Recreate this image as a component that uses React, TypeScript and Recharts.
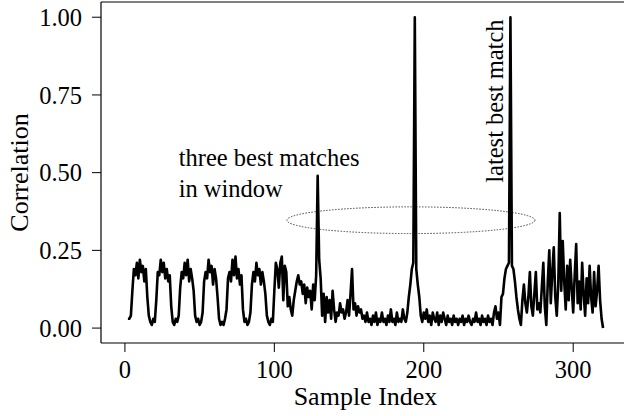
import { LineChart, Line, XAxis, YAxis, ReferenceLine, ReferenceArea, ReferenceDot, Label } from "recharts";

const FONT = "'Liberation Serif', 'Times New Roman', Times, serif";

// first sample index of the correlation trace
const startIndex = 2;

// correlation per sample (index 2 .. 319)
const correlation = [
  0.03, 0.03, 0.04, 0.12, 0.19, 0.17, 0.21, 0.16, 0.22, 0.18, 0.2, 0.15, 0.19, 0.1,
  0.04, 0.02, 0.01, 0.03, 0.02, 0.09, 0.18, 0.17, 0.22, 0.18, 0.21, 0.16, 0.19, 0.15,
  0.17, 0.07, 0.02, 0.01, 0.03, 0.02, 0.04, 0.13, 0.18, 0.16, 0.21, 0.17, 0.22, 0.15,
  0.19, 0.16, 0.12, 0.04, 0.02, 0.03, 0.01, 0.02, 0.05, 0.15, 0.18, 0.16, 0.22, 0.18,
  0.2, 0.14, 0.19, 0.16, 0.1, 0.03, 0.01, 0.02, 0.01, 0.03, 0.06, 0.16, 0.18, 0.15,
  0.22, 0.17, 0.23, 0.16, 0.19, 0.14, 0.17, 0.06, 0.02, 0.03, 0.01, 0.02, 0.05, 0.14,
  0.18, 0.15, 0.21, 0.17, 0.19, 0.14, 0.18, 0.15, 0.11, 0.04, 0.02, 0.01, 0.03, 0.02,
  0.12, 0.21, 0.19, 0.13, 0.21, 0.23, 0.09, 0.2, 0.18, 0.07, 0.1, 0.06, 0.04, 0.09,
  0.12, 0.15, 0.17, 0.14, 0.15, 0.11, 0.14, 0.08, 0.13, 0.1, 0.12, 0.06, 0.14, 0.09,
  0.17, 0.49, 0.22, 0.16, 0.04, 0.11, 0.02, 0.1, 0.05, 0.09, 0.03, 0.12, 0.06, 0.02,
  0.05, 0.04, 0.08, 0.05, 0.06, 0.03, 0.05, 0.09, 0.04, 0.11, 0.19, 0.06, 0.08, 0.04,
  0.07, 0.05, 0.06, 0.03, 0.04, 0.02, 0.05, 0.02, 0.03, 0.01, 0.04, 0.02, 0.05, 0.01,
  0.03, 0.02, 0.05, 0.02, 0.03, 0.01, 0.04, 0.02, 0.06, 0.02, 0.03, 0.01, 0.05, 0.02,
  0.03, 0.02, 0.06, 0.03, 0.02, 0.05, 0.1, 0.14, 0.19, 0.21, 1.0, 0.19, 0.14, 0.1,
  0.04, 0.02, 0.05, 0.03, 0.06, 0.02, 0.04, 0.01, 0.05, 0.03, 0.02, 0.05, 0.01, 0.04,
  0.02, 0.05, 0.03, 0.01, 0.04, 0.02, 0.03, 0.01, 0.04, 0.02, 0.03, 0.01, 0.03, 0.02,
  0.04, 0.01, 0.03, 0.02, 0.04, 0.02, 0.01, 0.03, 0.02, 0.05, 0.02, 0.03, 0.01, 0.04,
  0.02, 0.03, 0.01, 0.04, 0.02, 0.03, 0.01, 0.05, 0.07, 0.03, 0.05, 0.01, 0.1, 0.11,
  0.16, 0.19, 0.2, 0.21, 1.0, 0.2, 0.19, 0.15, 0.1, 0.06, 0.03, 0.01, 0.09, 0.14,
  0.08, 0.05, 0.1, 0.18, 0.07, 0.04, 0.11, 0.18, 0.06, 0.08, 0.05, 0.13, 0.21, 0.07,
  0.01, 0.15, 0.25, 0.08, 0.18, 0.26, 0.1, 0.04, 0.14, 0.37, 0.12, 0.28, 0.15, 0.06,
  0.2, 0.09, 0.22, 0.13, 0.05, 0.17, 0.27, 0.08, 0.15, 0.06, 0.21, 0.11, 0.04, 0.16,
  0.08, 0.2, 0.1, 0.05, 0.18, 0.07, 0.12, 0.2, 0.09, 0.03, 0.0,
];

const xTicks = [0, 100, 200, 300];
const yTicks = [0, 0.25, 0.5, 0.75, 1];
const xDomain = [-16, 334];
const yDomain = [-0.048, 1.049];

// annotation anchors in data units
const windowEllipse = { x1: 108.4, x2: 274.4, y1: 0.304, y2: 0.39 };
const windowNote = { x: 36, lines: ["three best matches", "in window"], y: [0.52, 0.423] };
const latestNote = { x: 253, y: 0.4675, text: "latest best match" };

const data = correlation.map((c, i) => ({ index: startIndex + i, corr: c }));

const textStyle = { fontFamily: FONT, fontSize: 24.5, fill: "#000" };

export default function App() {
  return (
    <div style={{ position: "fixed", left: 0, top: 0, background: "#fff", fontFamily: FONT }}>
      <LineChart width={624} height={416} data={data} margin={{ top: 2, right: 0, bottom: 0, left: 0 }}>
        <XAxis
          dataKey="index"
          type="number"
          domain={xDomain}
          ticks={xTicks}
          allowDataOverflow
          height={73}
          stroke="#000"
          tickSize={9}
          tickMargin={9}
          tick={{ ...textStyle, style: { fontFamily: FONT } }}
          tickLine={{ stroke: "#000" }}
          axisLine={{ stroke: "#000", strokeWidth: 1.2 }}
        >
          <Label
            content={({ viewBox }: any) => (
              <text
                x={viewBox.x + viewBox.width / 2 + 3}
                y={viewBox.y + 62}
                textAnchor="middle"
                fontFamily={FONT}
                fontSize={26}
                fill="#000"
              >
                Sample Index
              </text>
            )}
          />
        </XAxis>
        <YAxis
          type="number"
          domain={yDomain}
          ticks={yTicks}
          allowDataOverflow
          width={101}
          stroke="#000"
          tickSize={9}
          tickMargin={10}
          tick={{ ...textStyle, style: { fontFamily: FONT } }}
          tickLine={{ stroke: "#000" }}
          axisLine={{ stroke: "#000", strokeWidth: 1.2 }}
          tickFormatter={(v: number) => v.toFixed(2)}
        >
          <Label
            content={({ viewBox }: any) => {
              const cx = viewBox.x + 28;
              const cy = viewBox.y + viewBox.height / 2;
              return (
                <text
                  x={cx}
                  y={cy}
                  textAnchor="middle"
                  transform={`rotate(-90 ${cx} ${cy})`}
                  fontFamily={FONT}
                  fontSize={26}
                  fill="#000"
                >
                  Correlation
                </text>
              );
            }}
          />
        </YAxis>
        <ReferenceLine y={yDomain[1]} stroke="#000" strokeWidth={1.2} />
        <ReferenceArea
          x1={windowEllipse.x1}
          x2={windowEllipse.x2}
          y1={windowEllipse.y1}
          y2={windowEllipse.y2}
          shape={(props: any) => (
            <ellipse
              cx={props.x + props.width / 2}
              cy={props.y + props.height / 2}
              rx={props.width / 2}
              ry={props.height / 2}
              fill="none"
              stroke="#444"
              strokeWidth={1}
              strokeDasharray="1.5 1.5"
            />
          )}
        />
        <Line
          type="linear"
          dataKey="corr"
          stroke="#000"
          strokeWidth={2.6}
          strokeLinejoin="round"
          dot={false}
          activeDot={false}
          isAnimationActive={false}
        />
        {windowNote.lines.map((line, i) => (
          <ReferenceDot
            key={line}
            x={windowNote.x}
            y={windowNote.y[i]}
            r={0}
            shape={(p: any) => (
              <text x={p.cx} y={p.cy} textAnchor="start" fontFamily={FONT} fontSize={24.5} fill="#000">
                {line}
              </text>
            )}
          />
        ))}
        <ReferenceDot
          x={latestNote.x}
          y={latestNote.y}
          r={0}
          shape={(p: any) => (
            <text
              x={p.cx}
              y={p.cy}
              textAnchor="start"
              transform={`rotate(-90 ${p.cx} ${p.cy})`}
              fontFamily={FONT}
              fontSize={24.5}
              fill="#000"
            >
              {latestNote.text}
            </text>
          )}
        />
      </LineChart>
    </div>
  );
}
